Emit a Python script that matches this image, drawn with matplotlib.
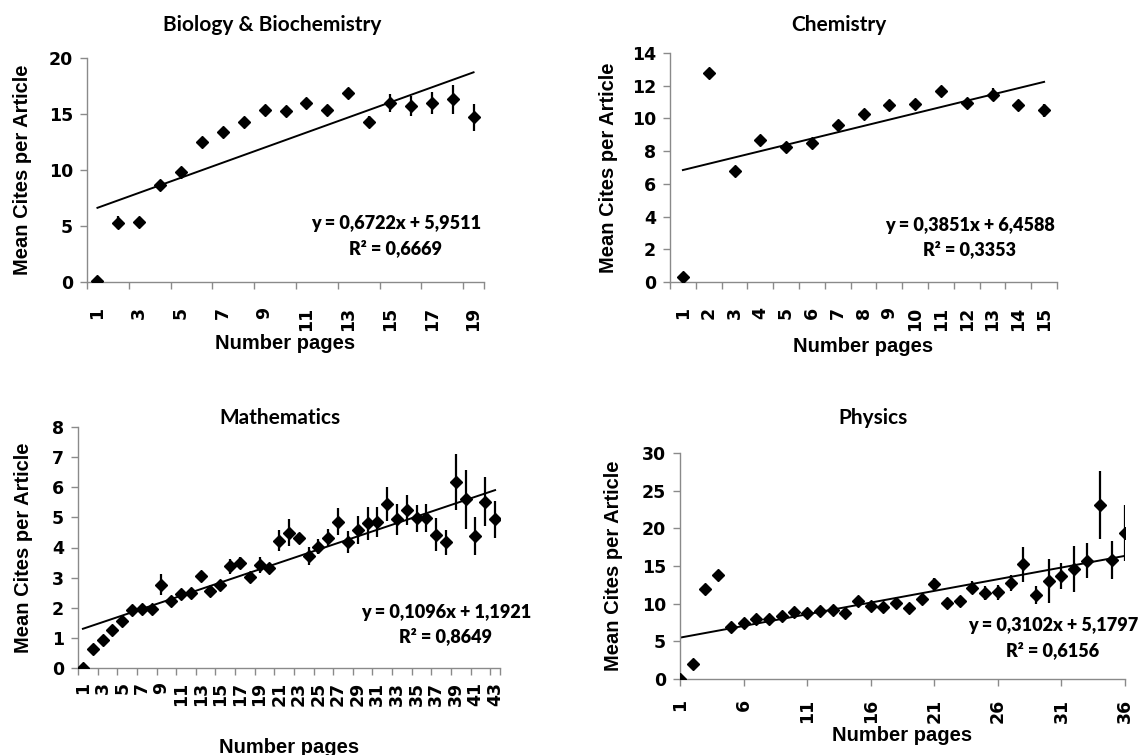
import numpy as np
import matplotlib
matplotlib.use("Agg")
import matplotlib.pyplot as plt

# Biology & Biochemistry
bio_mean = [0.1, 5.3, 5.4, 8.7, 9.8, 12.5, 13.4, 14.3, 15.4, 15.3, 16.0, 15.4, 16.9, 14.3, 16.0, 15.7, 16.0, 16.3, 14.7]
bio_err = [0.1, 0.6, 0.3, 0.3, 0.3, 0.2, 0.3, 0.2, 0.2, 0.2, 0.2, 0.2, 0.4, 0.5, 0.8, 0.9, 1.0, 1.3, 1.2]
bio_fit = (0.6722, 5.9511, 0.6669)

# Chemistry
chem_mean = [0.3, 12.8, 6.8, 8.7, 8.25, 8.5, 9.6, 10.25, 10.8, 10.9, 11.7, 10.95, 11.45, 10.8, 10.5]
chem_err = [0.1, 0.2, 0.1, 0.15, 0.15, 0.15, 0.15, 0.15, 0.15, 0.15, 0.2, 0.2, 0.4, 0.25, 0.4]
chem_fit = (0.3851, 6.4588, 0.3353)

# Mathematics
math_mean = [0.0, 0.63, 0.94, 1.27, 1.55, 1.91, 1.96, 1.96, 2.76, 2.24, 2.45, 2.48, 3.07, 2.56, 2.76,
             3.37, 3.50, 3.01, 3.42, 3.31, 4.23, 4.49, 4.30, 3.72, 4.03, 4.33, 4.86, 4.19, 4.58, 4.80,
             4.86, 5.44, 4.93, 5.24, 4.97, 4.97, 4.42, 4.17, 6.18, 5.60, 4.38, 5.52, 4.93]
math_err = [0.02, 0.05, 0.05, 0.06, 0.07, 0.08, 0.08, 0.1, 0.35, 0.1, 0.1, 0.1, 0.12, 0.1, 0.12,
            0.25, 0.2, 0.12, 0.28, 0.15, 0.36, 0.45, 0.19, 0.29, 0.26, 0.29, 0.44, 0.36, 0.45, 0.55,
            0.5, 0.57, 0.5, 0.5, 0.44, 0.46, 0.55, 0.41, 0.92, 0.98, 0.63, 0.82, 0.6]
math_fit = (0.1096, 1.1921, 0.8649)

# Physics
phys_mean = [0.0, 2.0, 11.9, 13.8, 6.9, 7.5, 7.9, 8.0, 8.3, 8.85, 8.75, 9.0, 9.2, 8.75, 10.4, 9.7,
             9.55, 10.1, 9.4, 10.6, 12.6, 10.1, 10.4, 12.1, 11.4, 11.5, 12.7, 15.2, 11.2, 13.0, 13.7,
             14.6, 15.7, 23.1, 15.8, 19.4]
phys_err = [0.05, 0.2, 0.3, 0.3, 0.3, 0.3, 0.3, 0.3, 0.3, 0.3, 0.3, 0.3, 0.35, 0.35, 0.45, 0.4,
            0.4, 0.45, 0.6, 0.55, 0.75, 0.55, 0.65, 0.85, 0.9, 0.95, 1.05, 2.3, 1.2, 2.9, 1.75,
            3.1, 2.3, 4.45, 2.5, 3.7]
phys_fit = (0.3102, 5.1797, 0.6156)

GRAY = "#8a8a8a"
TICKFONT = dict(family="DejaVu Sans", weight="bold", size=12.5)
LABELFONT = dict(family="Liberation Sans", weight="bold", size=14.5)
TITLEFONT = dict(family="Lato", weight="bold", size=15)
EQFONT = dict(family="Lato", weight="heavy", size=13)


def fmt(v):
    return ("%.4f" % v).replace(".", ",")


def panel(fig, rect, title, title_xy, mean, err, fit, ylim, ystep, between, label_step,
          xpad, eq_xy, ylab_x, xlab_y):
    ax = fig.add_axes(rect)
    n = len(mean)
    x = np.arange(1, n + 1)
    ax.errorbar(x, mean, yerr=err, fmt="D", color="black", ms=6, elinewidth=1.6,
                capsize=0, zorder=3)
    xf = np.array([1, n])
    ax.plot(xf, fit[0] * xf + fit[1], color="black", lw=1.4, zorder=2)

    ax.set_ylim(ylim)
    ax.set_yticks(np.arange(ylim[0], ylim[1] + 0.01, ystep))
    ax.set_yticklabels([str(int(v)) for v in ax.get_yticks()], fontdict=TICKFONT)

    if between:
        ax.set_xlim(0.5, n + 0.5)
        labs = np.arange(1, n + 1, label_step)
        ax.set_xticks(labs)
        ax.set_xticks(np.append(np.arange(0.5, n + 0.5, label_step), n + 0.5), minor=True)
        ax.tick_params(axis="x", which="major", length=0, pad=xpad)
        ax.tick_params(axis="x", which="minor", length=5, width=1, color=GRAY, direction="out")
    else:
        ax.set_xlim(1, n)
        labs = np.arange(1, n + 1, label_step)
        ax.set_xticks(labs)
        ax.tick_params(axis="x", which="major", length=5, width=1, color=GRAY,
                       direction="out", pad=xpad)
    ax.set_xticklabels([str(v) for v in labs], fontdict=TICKFONT, rotation=90)
    ax.tick_params(axis="y", length=5, width=1, color=GRAY, direction="out", pad=5)

    for s in ["top", "right"]:
        ax.spines[s].set_visible(False)
    for s in ["left", "bottom"]:
        ax.spines[s].set_color(GRAY)
        ax.spines[s].set_linewidth(1)

    ax.set_ylabel("Mean Cites per Article", va="center", ha="center", **LABELFONT)
    ax.yaxis.set_label_coords(ylab_x, 0.5)
    ax.set_xlabel("Number pages", va="center", ha="center", **LABELFONT)
    ax.xaxis.set_label_coords(0.5, xlab_y)

    eq = "y = %sx + %s\nR² = %s" % (fmt(fit[0]), fmt(fit[1]), fmt(fit[2]))
    ax.text(eq_xy[0], eq_xy[1], eq, transform=ax.transAxes, ha="center", va="center",
            multialignment="center", linespacing=1.45, **EQFONT)

    fig.text(title_xy[0] / 1147, 1 - title_xy[1] / 755, title, ha="center", va="center",
             **TITLEFONT)
    return ax


fig = plt.figure(figsize=(11.47, 7.55), dpi=100)

panel(fig, [87 / 1147, 1 - 282 / 755, 397 / 1147, 224 / 755], "Biology & Biochemistry",
      (272, 25), bio_mean, bio_err, bio_fit, (0, 20), 5, True, 2, 18,
      (0.778, 0.205), -0.162, -0.275)
panel(fig, [670 / 1147, 1 - 282 / 755, 387 / 1147, 229 / 755], "Chemistry",
      (839, 25), chem_mean, chem_err, chem_fit, (0, 14), 2, True, 1, 18,
      (0.775, 0.195), -0.160, -0.28)
panel(fig, [78 / 1147, 1 - 668 / 755, 422 / 1147, 241 / 755], "Mathematics",
      (280, 418), math_mean, math_err, math_fit, (0, 8), 1, True, 2, 10,
      (0.872, 0.180), -0.128, -0.33)
panel(fig, [680 / 1147, 1 - 679 / 755, 445 / 1147, 226 / 755], "Physics",
      (873, 418), phys_mean, phys_err, phys_fit, (0, 30), 5, False, 5, 9.5,
      (0.838, 0.182), -0.150, -0.25)

fig.savefig("out.png", dpi=100)
